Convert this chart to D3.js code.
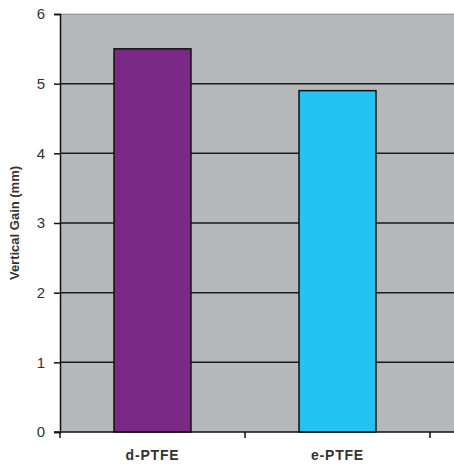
<!DOCTYPE html>
<html>
<head>
<meta charset="utf-8">
<script src="https://cdn.jsdelivr.net/npm/d3@7"></script>
<style>
  body { margin: 0; background: #fff; }
  text { font-family: "Liberation Sans", Arial, sans-serif; }
</style>
</head>
<body>
<script>
// data
var categories = ["d-PTFE", "e-PTFE"];
var values = [5.5, 4.9];
var barColors = ["#7b2886", "#22c3f2"];
var yTicks = [0, 1, 2, 3, 4, 5, 6];

var W = 454, H = 466;
var margin = { top: 14, left: 60, bottom: 34 };
var plotRight = 430;
var height = H - margin.top - margin.bottom;

var svg = d3.select("body").append("svg")
    .attr("width", W)
    .attr("height", H);

var x = d3.scaleBand()
    .domain(categories)
    .range([margin.left, plotRight])
    .paddingInner(0.584)
    .paddingOuter(0.292);

var y = d3.scaleLinear()
    .domain([0, 6])
    .range([margin.top + height, margin.top]);

// plot background (runs off the right edge like the original)
svg.append("rect")
    .attr("x", margin.left)
    .attr("y", y(6))
    .attr("width", W - margin.left)
    .attr("height", y(0) - y(6))
    .attr("fill", "#b5b8ba");

// gridlines
svg.selectAll(".grid")
    .data(yTicks.filter(function(d) { return d > 0; }))
    .enter().append("line")
    .attr("x1", margin.left)
    .attr("x2", W)
    .attr("y1", function(d) { return y(d); })
    .attr("y2", function(d) { return y(d); })
    .attr("stroke", "#1a1a1a")
    .attr("stroke-width", function(d) { return d === 6 ? 1 : 1.5; })
    .attr("stroke-opacity", function(d) { return d === 6 ? 0.35 : 1; });

// bars
svg.selectAll(".bar")
    .data(values)
    .enter().append("rect")
    .attr("x", function(d, i) { return x(categories[i]); })
    .attr("y", function(d) { return y(d); })
    .attr("width", x.bandwidth())
    .attr("height", function(d) { return y(0) - y(d); })
    .attr("fill", function(d, i) { return barColors[i]; })
    .attr("stroke", "#111")
    .attr("stroke-width", 1.5);

// y axis
var yAxis = svg.append("g")
    .attr("transform", "translate(" + margin.left + ",0)")
    .call(d3.axisLeft(y).tickValues(yTicks).tickFormat(d3.format("d")).tickSize(6).tickPadding(9));
yAxis.select(".domain").attr("stroke", "#111").attr("stroke-width", 1.5);
yAxis.selectAll(".tick line").attr("stroke", "#111").attr("stroke-width", 1.5);
yAxis.selectAll(".tick text")
    .attr("font-size", 15)
    .attr("fill", "#333")
    .attr("font-family", "Liberation Sans, Arial, sans-serif");

// x axis with ticks at category boundaries
var xAxis = svg.append("g")
    .attr("transform", "translate(0," + y(0) + ")");
xAxis.append("line")
    .attr("x1", margin.left - 6)
    .attr("x2", W)
    .attr("stroke", "#111")
    .attr("stroke-width", 1.5);
var boundaries = [margin.left, margin.left + x.step(), margin.left + 2 * x.step()];
xAxis.selectAll(".xt")
    .data(boundaries)
    .enter().append("line")
    .attr("x1", function(d) { return d; })
    .attr("x2", function(d) { return d; })
    .attr("y1", 0)
    .attr("y2", 6)
    .attr("stroke", "#111")
    .attr("stroke-width", 1.5);
xAxis.selectAll(".xl")
    .data(categories)
    .enter().append("text")
    .attr("x", function(d) { return x(d) + x.bandwidth() / 2; })
    .attr("y", 28)
    .attr("text-anchor", "middle")
    .attr("font-size", 14)
    .attr("font-weight", "bold")
    .attr("letter-spacing", 0.8)
    .attr("fill", "#333")
    .text(function(d) { return d; });

// y title
svg.append("text")
    .attr("transform", "translate(19," + (y(3)) + ") rotate(-90)")
    .attr("text-anchor", "middle")
    .attr("font-size", 13)
    .attr("font-weight", "bold")
    .attr("fill", "#333")
    .text("Vertical Gain (mm)");
</script>
</body>
</html>
